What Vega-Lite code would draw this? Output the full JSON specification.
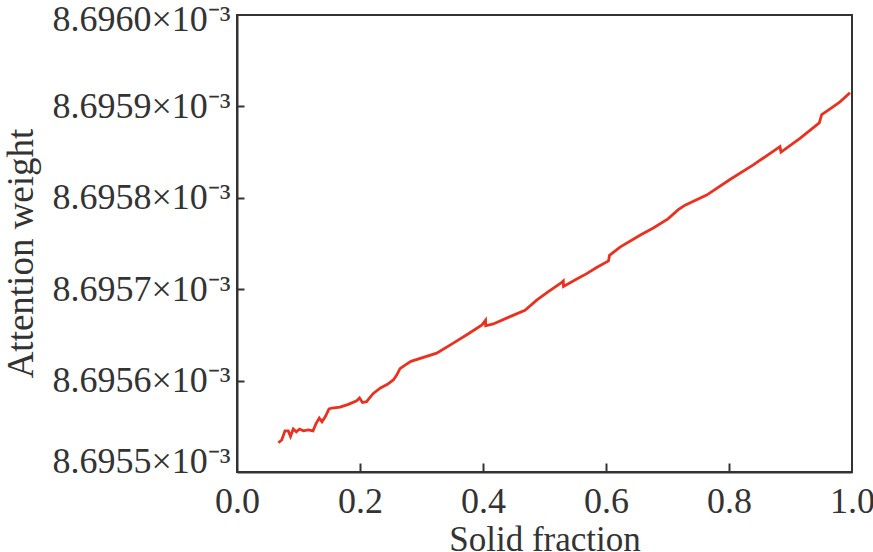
{
  "$schema": "https://vega.github.io/schema/vega-lite/v6.json",
  "description": "Attention weight vs solid fraction",
  "autosize": {"type": "none"},
  "padding": {"left": 237, "top": 15, "right": 21, "bottom": 80},
  "width": 615,
  "height": 457,
  "background": "white",
  "data": {
    "values": [
      {"solid_fraction": 0.0672, "attention_weight": 0.008695532},
      {"solid_fraction": 0.0727, "attention_weight": 0.008695535},
      {"solid_fraction": 0.0780, "attention_weight": 0.008695545},
      {"solid_fraction": 0.0834, "attention_weight": 0.008695545},
      {"solid_fraction": 0.0870, "attention_weight": 0.008695539},
      {"solid_fraction": 0.0915, "attention_weight": 0.008695547},
      {"solid_fraction": 0.0964, "attention_weight": 0.008695544},
      {"solid_fraction": 0.1016, "attention_weight": 0.008695547},
      {"solid_fraction": 0.1078, "attention_weight": 0.008695545},
      {"solid_fraction": 0.1159, "attention_weight": 0.008695546},
      {"solid_fraction": 0.1236, "attention_weight": 0.008695545},
      {"solid_fraction": 0.1285, "attention_weight": 0.008695553},
      {"solid_fraction": 0.1338, "attention_weight": 0.008695559},
      {"solid_fraction": 0.1382, "attention_weight": 0.008695555},
      {"solid_fraction": 0.1439, "attention_weight": 0.008695561},
      {"solid_fraction": 0.1496, "attention_weight": 0.008695569},
      {"solid_fraction": 0.1545, "attention_weight": 0.008695570},
      {"solid_fraction": 0.1675, "attention_weight": 0.008695571},
      {"solid_fraction": 0.1810, "attention_weight": 0.008695574},
      {"solid_fraction": 0.1946, "attention_weight": 0.008695578},
      {"solid_fraction": 0.1992, "attention_weight": 0.008695581},
      {"solid_fraction": 0.2041, "attention_weight": 0.008695576},
      {"solid_fraction": 0.2106, "attention_weight": 0.008695577},
      {"solid_fraction": 0.2216, "attention_weight": 0.008695586},
      {"solid_fraction": 0.2333, "attention_weight": 0.008695592},
      {"solid_fraction": 0.2447, "attention_weight": 0.008695596},
      {"solid_fraction": 0.2545, "attention_weight": 0.008695601},
      {"solid_fraction": 0.2597, "attention_weight": 0.008695606},
      {"solid_fraction": 0.2650, "attention_weight": 0.008695613},
      {"solid_fraction": 0.2732, "attention_weight": 0.008695617},
      {"solid_fraction": 0.2829, "attention_weight": 0.008695621},
      {"solid_fraction": 0.3247, "attention_weight": 0.008695630},
      {"solid_fraction": 0.3517, "attention_weight": 0.008695641},
      {"solid_fraction": 0.3756, "attention_weight": 0.008695651},
      {"solid_fraction": 0.3984, "attention_weight": 0.008695661},
      {"solid_fraction": 0.4041, "attention_weight": 0.008695666},
      {"solid_fraction": 0.4044, "attention_weight": 0.008695660},
      {"solid_fraction": 0.4167, "attention_weight": 0.008695662},
      {"solid_fraction": 0.4439, "attention_weight": 0.008695670},
      {"solid_fraction": 0.4683, "attention_weight": 0.008695677},
      {"solid_fraction": 0.4873, "attention_weight": 0.008695688},
      {"solid_fraction": 0.5057, "attention_weight": 0.008695697},
      {"solid_fraction": 0.5252, "attention_weight": 0.008695706},
      {"solid_fraction": 0.5306, "attention_weight": 0.008695709},
      {"solid_fraction": 0.5309, "attention_weight": 0.008695703},
      {"solid_fraction": 0.5496, "attention_weight": 0.008695710},
      {"solid_fraction": 0.5686, "attention_weight": 0.008695717},
      {"solid_fraction": 0.5854, "attention_weight": 0.008695724},
      {"solid_fraction": 0.6041, "attention_weight": 0.008695731},
      {"solid_fraction": 0.6057, "attention_weight": 0.008695737},
      {"solid_fraction": 0.6228, "attention_weight": 0.008695746},
      {"solid_fraction": 0.6553, "attention_weight": 0.008695759},
      {"solid_fraction": 0.6769, "attention_weight": 0.008695767},
      {"solid_fraction": 0.7008, "attention_weight": 0.008695777},
      {"solid_fraction": 0.7176, "attention_weight": 0.008695787},
      {"solid_fraction": 0.7285, "attention_weight": 0.008695792},
      {"solid_fraction": 0.7637, "attention_weight": 0.008695803},
      {"solid_fraction": 0.8016, "attention_weight": 0.008695820},
      {"solid_fraction": 0.8395, "attention_weight": 0.008695836},
      {"solid_fraction": 0.8699, "attention_weight": 0.008695850},
      {"solid_fraction": 0.8829, "attention_weight": 0.008695856},
      {"solid_fraction": 0.8846, "attention_weight": 0.008695850},
      {"solid_fraction": 0.9154, "attention_weight": 0.008695865},
      {"solid_fraction": 0.9468, "attention_weight": 0.008695882},
      {"solid_fraction": 0.9507, "attention_weight": 0.008695891},
      {"solid_fraction": 0.9615, "attention_weight": 0.008695896},
      {"solid_fraction": 0.9805, "attention_weight": 0.008695905},
      {"solid_fraction": 0.9967, "attention_weight": 0.008695915}
    ]
  },
  "layer": [
    {
      "mark": {"type": "line", "color": "#e8321f", "strokeWidth": 2.8, "clip": true},
      "encoding": {
        "x": {
          "field": "solid_fraction",
          "type": "quantitative",
          "title": "Solid fraction",
          "scale": {"domain": [0, 1], "nice": false, "zero": false},
          "axis": {
            "values": [0, 0.2, 0.4, 0.6, 0.8, 1.0],
            "format": ".1f",
            "ticks": false,
            "labelFlush": false,
            "labelFontSize": 36,
            "labelPadding": 12,
            "titleFontSize": 35,
            "titlePadding": 3
          }
        },
        "y": {
          "field": "attention_weight",
          "type": "quantitative",
          "title": "Attention weight",
          "scale": {"domain": [0.0086955, 0.008696], "nice": false, "zero": false},
          "axis": {
            "values": [0.0086955, 0.0086956, 0.0086957, 0.0086958, 0.0086959, 0.008696],
            "labelExpr": "format(datum.value * 1000, '.4f') + '×10⁻³'",
            "ticks": false,
            "labelFlush": false,
            "labelLimit": 400,
            "labelBaseline": {"condition": {"test": "datum.value < 0.00869551", "value": "alphabetic"}, "value": "middle"},
            "labelOffset": {"condition": {"test": "datum.value > 0.00869599", "value": 4}, "value": 0},
            "labelFontSize": 36,
            "labelPadding": 7,
            "titleFontSize": 37,
            "titlePadding": 11,
            "titleY": 238
          }
        }
      }
    },
    {
      "mark": {"type": "line", "opacity": 0},
      "encoding": {
        "x": {
          "field": "solid_fraction",
          "type": "quantitative",
          "axis": {
            "orient": "top",
            "offset": -457,
            "values": [0.2, 0.4, 0.6, 0.8],
            "domain": false,
            "labels": false,
            "ticks": true,
            "tickSize": 9,
            "title": null
          }
        },
        "y": {
          "field": "attention_weight",
          "type": "quantitative",
          "axis": {
            "orient": "right",
            "offset": -615,
            "values": [0.0086956, 0.0086957, 0.0086958, 0.0086959],
            "domain": false,
            "labels": false,
            "ticks": true,
            "tickSize": 7,
            "title": null
          }
        }
      }
    }
  ],
  "resolve": {"axis": {"x": "independent", "y": "independent"}},
  "config": {
    "font": "Liberation Serif",
    "view": {"stroke": "#333333", "strokeWidth": 2},
    "axis": {
      "grid": false,
      "domainColor": "#333333",
      "domainWidth": 2,
      "tickColor": "#333333",
      "tickWidth": 2,
      "labelColor": "#333333",
      "titleColor": "#333333",
      "labelFont": "Liberation Serif",
      "titleFont": "Liberation Serif",
      "titleFontWeight": "normal"
    }
  }
}
